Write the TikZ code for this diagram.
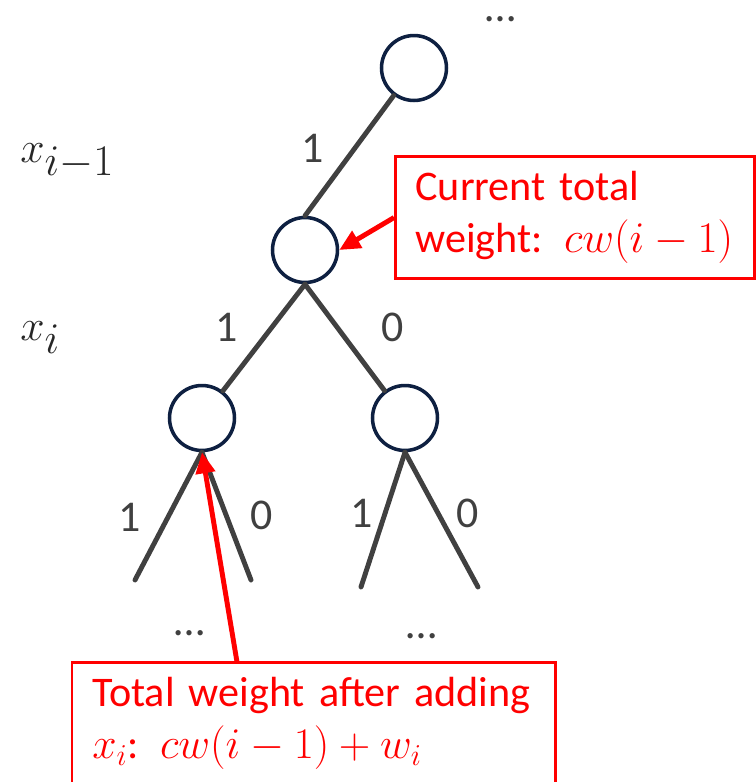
\documentclass[tikz,border=0pt]{standalone}
\usepackage{fontspec}
\setmainfont{Carlito}
\usetikzlibrary{arrows.meta}
\definecolor{edgegray}{HTML}{404040}
\definecolor{nodenavy}{HTML}{0E2041}
\definecolor{notered}{HTML}{FF0000}
\definecolor{mathgray}{HTML}{262626}

\begin{document}
\begin{tikzpicture}[x=0.02cm, y=-0.02cm,
  vert/.style={circle, draw=nodenavy, fill=white, line width=2pt, minimum size=1.3cm, inner sep=0pt},
  edge/.style={draw=edgegray, line width=2.8pt, line cap=round},
  lbl/.style={font=\fontsize{25}{30}\selectfont, text=edgegray, inner sep=0pt},
  elided/.style={lbl, anchor=base, text height=0.15cm, text depth=0pt},
  level/.style={font=\fontsize{51}{54}\selectfont, text=mathgray, anchor=base west, inner sep=0pt},
  note/.style={text=notered, align=left, anchor=north west,
    font=\fontsize{24}{29.6}\selectfont, inner xsep=0.4cm, inner ysep=0.3cm},
  frame/.style={draw=notered, line width=1.7pt},
  pointer/.style={draw=notered, line width=2.8pt, -{Triangle[length=0.42cm, width=0.38cm]}}]
  \useasboundingbox (0,0) rectangle (755,782);

  % tree vertices
  \node[vert] (top) at (414,68) {};
  \node[vert] (cur) at (305,250) {};
  \node[vert] (lc) at (202,418) {};
  \node[vert] (rc) at (405,418) {};
  \coordinate (leafa) at (135,580);
  \coordinate (leafb) at (251,580);
  \coordinate (leafc) at (361,587);
  \coordinate (leafd) at (478,587);

  % branches
  \draw[edge] (top) -- (cur.north);
  \draw[edge] (cur.south) -- (lc);
  \draw[edge] (cur.south) -- (rc);
  \draw[edge] (lc.south) -- (leafa);
  \draw[edge] (lc.south) -- (leafb);
  \draw[edge] (rc.south) -- (leafc);
  \draw[edge] (rc.south) -- (leafd);

  % branch values
  \node[lbl] (btop) at (313,148) {1};
  \node[lbl] (bl) at (227,327) {1};
  \node[lbl] (br) at (393,327) {0};
  \node[lbl] (bla) at (130,517) {1};
  \node[lbl] (blb) at (262,515) {0};
  \node[lbl] (brc) at (362,513) {1};
  \node[lbl] (brd) at (468,513) {0};

  % elided parts
  \node[elided] (dtop) at (501,21) {…};
  \node[elided] (dl) at (190,635) {…};
  \node[elided] (dr) at (422,638) {…};

  % variable levels
  \node[level] (xprev) at (20,162) {$x_{i-1}$};
  \node[level] (xcur) at (20,340) {$x_i$};

  % notes
  \node[note, frame, text width=6.38cm] (curnote) at (394,155)
    {Current total\\weight: $cw(i-1)$};
  \node[note, text width=8.86cm] (addnote) at (72,662)
    {Total weight after adding\\$x_i$: $cw(i-1)+w_i$};
  \draw[frame] ([yshift=-1cm]addnote.south west) -- (addnote.north west)
    -- (addnote.north east) -- ([yshift=-1cm]addnote.south east);
  \coordinate (addtail) at (237,662);
  \draw[pointer] (curnote.west) -- (cur.east);
  \draw[pointer] (addtail) -- (lc.south);
\end{tikzpicture}
\end{document}
